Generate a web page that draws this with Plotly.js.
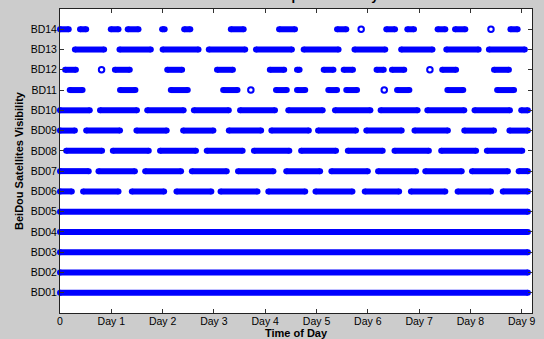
<!DOCTYPE html>
<html>
<head>
<meta charset="utf-8">
<script src="https://cdn.plot.ly/plotly-3.0.1.min.js"></script>
<style>html,body{margin:0;padding:0;background:#cccccc;}#chart{width:544px;height:339px;}</style>
</head>
<body>
<div id="chart"></div>
<script>
// Satellite labels (y axis) and x tick labels
const satLabels = ["BD01","BD02","BD03","BD04","BD05","BD06","BD07","BD08","BD09","BD10","BD11","BD12","BD13","BD14"];
const dayTickVals = [0,1,2,3,4,5,6,7,8,9];
const dayTickText = ["0","Day 1","Day 2","Day 3","Day 4","Day 5","Day 6","Day 7","Day 8","Day 9"];

// Visibility windows [start day, end day] for each satellite
const BD01 = [[0, 9.12]];
const BD02 = [[0, 9.12]];
const BD03 = [[0, 9.12]];
const BD04 = [[0, 9.12]];
const BD05 = [[0, 9.12]];
const BD06 = [[0,0.23],[0.45,1.14],[1.40,2.03],[2.27,2.95],[3.13,3.85],[4.06,4.78],[4.98,5.70],[5.94,6.61],[6.84,7.51],[7.75,8.40],[8.63,9.12]];
const BD07 = [[0,0.56],[0.75,1.46],[1.66,2.36],[2.57,3.25],[3.47,4.16],[4.41,5.07],[5.29,6.00],[6.20,6.94],[7.12,7.83],[8.03,8.73],[8.94,9.12]];
const BD08 = [[0.12,0.82],[1.03,1.73],[1.95,2.65],[2.86,3.56],[3.78,4.47],[4.70,5.38],[5.61,6.29],[6.52,7.19],[7.43,8.11],[8.32,9.01]];
const BD09 = [[0,0.29],[0.51,1.17],[1.49,2.08],[2.40,2.99],[3.29,3.92],[4.12,4.85],[5.03,5.77],[5.97,6.66],[6.91,7.56],[7.88,8.46],[8.76,9.12]];
const BD10 = [[0,0.58],[0.78,1.50],[1.70,2.41],[2.61,3.29],[3.51,4.19],[4.45,5.12],[5.36,6.05],[6.25,6.97],[7.16,7.88],[8.08,8.77],[8.99,9.12]];
const BD11 = [[0.19,0.44],[1.17,1.47],[2.16,2.49],[3.18,3.46],[4.21,4.42],[4.62,4.78],[5.23,5.40],[5.58,5.79],[6.57,6.81],[7.55,7.86],[8.52,8.85]];
const BD12 = [[0.10,0.31],[1.07,1.36],[2.09,2.38],[3.06,3.37],[4.09,4.37],[4.62,4.67],[5.14,5.33],[5.53,5.71],[6.17,6.31],[6.47,6.71],[7.45,7.72],[8.46,8.75]];
const BD13 = [[0.29,0.86],[1.16,1.77],[2.00,2.70],[2.90,3.61],[3.82,4.52],[4.75,5.43],[5.74,6.34],[6.65,7.26],[7.53,8.16],[8.36,9.06]];
const BD14 = [[0,0.17],[0.39,0.51],[0.99,1.14],[1.32,1.53],[1.99,2.04],[2.42,2.54],[3.33,3.58],[4.27,4.58],[5.40,5.58],[6.36,6.53],[6.77,6.90],[7.36,7.51],[7.70,7.90],[8.78,8.92]];

// Single isolated visibility epochs (days)
const BD11_single = [3.72, 6.32];
const BD12_single = [0.81, 7.21];
const BD14_single = [5.87, 8.40];

const windows = [BD01,BD02,BD03,BD04,BD05,BD06,BD07,BD08,BD09,BD10,BD11,BD12,BD13,BD14];
const singles = {11: BD11_single, 12: BD12_single, 14: BD14_single};

const BLUE = "#0000ff";
const traces = [];
windows.forEach((segs, i) => {
  const sat = i + 1;
  const xs = [], ys = [];
  segs.forEach(s => { xs.push(s[0], s[1], null); ys.push(sat, sat, null); });
  traces.push({
    type: "scatter", mode: "lines+markers", x: xs, y: ys,
    line: {color: BLUE, width: 6}, marker: {color: BLUE, size: 6, symbol: "circle"},
    cliponaxis: false, hoverinfo: "skip", showlegend: false
  });
});
Object.keys(singles).forEach(k => {
  const pts = singles[k];
  traces.push({
    type: "scatter", mode: "markers", x: pts, y: pts.map(() => Number(k)),
    marker: {color: BLUE, size: 5.5, symbol: "circle-open", line: {color: BLUE, width: 2}},
    cliponaxis: false, hoverinfo: "skip", showlegend: false
  });
});

const axFont = {family: "Arial, 'Liberation Sans', Helvetica, sans-serif", size: 10.5, color: "#000000"};
const layout = {
  width: 544, height: 339,
  paper_bgcolor: "#cccccc", plot_bgcolor: "#ffffff",
  margin: {l: 60, r: 12, t: 9, b: 26},
  title: {
    text: "BeiDou Complete Visibility",
    font: {family: "Arial, 'Liberation Sans', sans-serif", size: 13, color: "#000000", weight: "bold"},
    xref: "paper", x: 0.5, xanchor: "center",
    yref: "container", y: 1, yanchor: "bottom"
  },
  xaxis: {
    range: [0, 9.2], tickmode: "array", tickvals: dayTickVals, ticktext: dayTickText,
    ticks: "inside", ticklen: 4, tickcolor: "#333333", tickwidth: 1,
    showline: true, linecolor: "#222222", linewidth: 1, mirror: "ticks",
    showgrid: false, zeroline: false, tickfont: axFont, ticklabelstandoff: -2,
    title: {text: "Time of Day", standoff: 3, font: {family: "Arial, 'Liberation Sans', sans-serif", size: 11, color: "#000000", weight: "bold"}}
  },
  yaxis: {
    range: [0, 15], tickmode: "array", tickvals: satLabels.map((_, i) => i + 1), ticktext: satLabels,
    ticks: "inside", ticklen: 4, tickcolor: "#333333", tickwidth: 1,
    showline: true, linecolor: "#222222", linewidth: 1, mirror: "ticks",
    showgrid: false, zeroline: false, tickfont: axFont,
    title: {text: "BeiDou Satellites Visibility", standoff: 4, font: {family: "Arial, 'Liberation Sans', sans-serif", size: 11, color: "#000000", weight: "bold"}}
  }
};
Plotly.newPlot("chart", traces, layout, {staticPlot: true, displayModeBar: false});
</script>
</body>
</html>
